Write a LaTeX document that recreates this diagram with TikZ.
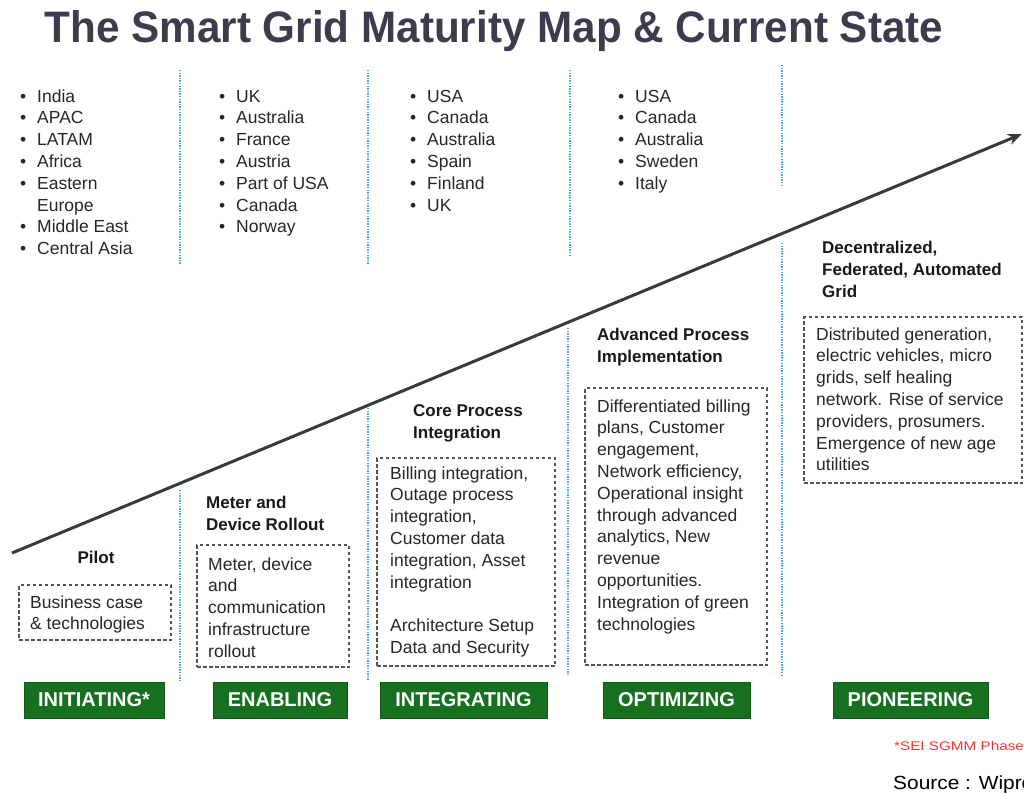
\documentclass[tikz,border=0pt]{standalone}
\usepackage{fontspec}
\setmainfont{Liberation Sans}
\usetikzlibrary{arrows.meta}
\definecolor{titlecol}{HTML}{3C3C4E}
\definecolor{gridgreen}{HTML}{16701F}
\definecolor{sepblue}{HTML}{45AEDC}
\definecolor{boxgray}{HTML}{555555}
\definecolor{arrowgray}{HTML}{3A3A3A}
\definecolor{notered}{HTML}{FF3030}
\definecolor{txtcol}{HTML}{262626}
\newcommand{\bitem}[1]{\makebox[17pt][l]{\textbullet}#1}
\newcommand{\bcont}[1]{\hspace*{17pt}#1}
\begin{document}
\begin{tikzpicture}[x=1pt,y=-1pt,
  bodytext/.style={font=\fontsize{17.5}{21.8}\selectfont, align=left, anchor=north west, inner sep=0pt, text=txtcol},
  headtext/.style={font=\fontsize{17}{22.3}\selectfont\bfseries, align=left, anchor=north west, inner sep=0pt, text=black!90},
  dashbox/.style={draw=boxgray, line width=1.5pt, dash pattern=on 3.5pt off 2.5pt, inner sep=0pt},
  phase/.style={fill=gridgreen, draw=gridgreen!80!black, line width=0.8pt, text=white, font=\fontsize{20}{24}\selectfont\bfseries, minimum height=36pt, inner sep=0pt},
  sepline/.style={draw=sepblue, line width=2.2pt, dash pattern=on 1.3pt off 1.3pt},
  arrowline/.style={draw=arrowgray, line width=3pt, -{Stealth[length=14pt,width=11pt]}}]
\useasboundingbox (0,0) rectangle (1024,793);
\clip (0,0) rectangle (1024,793);

% title
\node[anchor=base, inner sep=0pt, text=titlecol, font=\fontsize{42}{48}\selectfont\bfseries] (title) at (494,42) {\scalebox{1.005}[1.05]{The Smart Grid Maturity Map \& Current State}};

% separators
\coordinate (s1a) at (180,70);  \coordinate (s1b) at (180,265);
\coordinate (s2a) at (368,70);  \coordinate (s2b) at (368,265);
\coordinate (s3a) at (570,70);  \coordinate (s3b) at (570,256);
\coordinate (s4a) at (782,65);  \coordinate (s4b) at (782,186);
\coordinate (l1a) at (180,490); \coordinate (l1b) at (180,680);
\coordinate (l2a) at (368,408); \coordinate (l2b) at (368,680);
\coordinate (l3a) at (568,328); \coordinate (l3b) at (568,676);
\coordinate (l4a) at (782,243); \coordinate (l4b) at (782,676);
\foreach \a/\b in {s1a/s1b,s2a/s2b,s3a/s3b,s4a/s4b,l1a/l1b,l2a/l2b,l3a/l3b,l4a/l4b}
  \draw[sepline] (\a) -- (\b);

% country lists
\node[bodytext] (c1) at (20,86.7) {\strut\bitem{India}\\ \bitem{APAC}\\ \bitem{LATAM}\\ \bitem{Africa}\\ \bitem{Eastern}\\ \bcont{Europe}\\ \bitem{Middle East}\\ \bitem{Central Asia}};
\node[bodytext] (c2) at (219,86.7) {\strut\bitem{UK}\\ \bitem{Australia}\\ \bitem{France}\\ \bitem{Austria}\\ \bitem{Part of USA}\\ \bitem{Canada}\\ \bitem{Norway}};
\node[bodytext] (c3) at (410,86.7) {\strut\bitem{USA}\\ \bitem{Canada}\\ \bitem{Australia}\\ \bitem{Spain}\\ \bitem{Finland}\\ \bitem{UK}};
\node[bodytext] (c4) at (618,86.7) {\strut\bitem{USA}\\ \bitem{Canada}\\ \bitem{Australia}\\ \bitem{Sweden}\\ \bitem{Italy}};

% maturity arrow
\coordinate (astart) at (12,553);
\coordinate (aend) at (1022,134);
\draw[arrowline] (astart) -- (aend);

% headings
\node[headtext, anchor=north, align=center] (h1) at (96,547.4) {\strut Pilot};
\node[headtext] (h2) at (206,492.4) {\strut Meter and\\Device Rollout};
\node[headtext] (h3) at (413,400.4) {\strut Core Process\\Integration};
\node[headtext] (h4) at (597,324.4) {\strut Advanced Process\\Implementation};
\node[headtext] (h5) at (822,237.4) {\strut Decentralized,\\Federated, Automated\\Grid};

% dashed boxes
\node[dashbox, minimum width=152pt, minimum height=55pt] (b1) at (95,612.5) {};
\node[dashbox, minimum width=152pt, minimum height=122pt] (b2) at (273,606) {};
\node[dashbox, minimum width=178pt, minimum height=208pt] (b3) at (466,562) {};
\node[dashbox, minimum width=182pt, minimum height=277pt] (b4) at (676,526.5) {};
\node[dashbox, minimum width=218pt, minimum height=166pt] (b5) at (913,400) {};

% box texts
\node[bodytext] (t1) at (30,592.7) {\strut Business case\\\& technologies};
\node[bodytext] (t2) at (208,554.7) {\strut Meter, device\\and\\communication\\infrastructure\\rollout};
\node[bodytext] (t3) at (390,463.7) {\strut Billing integration,\\Outage process\\integration,\\Customer data\\integration, Asset\\integration\\[21.8pt]Architecture Setup\\Data and Security};
\node[bodytext] (t4) at (597,396.7) {\strut Differentiated billing\\plans, Customer\\engagement,\\Network efficiency,\\Operational insight\\through advanced\\analytics, New\\revenue\\opportunities.\\Integration of green\\technologies};
\node[bodytext] (t5) at (816,324.7) {\strut Distributed generation,\\electric vehicles, micro\\grids, self healing\\network. Rise of service\\providers, prosumers.\\Emergence of new age\\utilities};

% phases
\node[phase, minimum width=140pt] (p1) at (94,700) {INITIATING*};
\node[phase, minimum width=134pt] (p2) at (280,700) {ENABLING};
\node[phase, minimum width=167pt] (p3) at (463.5,700) {INTEGRATING};
\node[phase, minimum width=147pt] (p4) at (676.5,700) {OPTIMIZING};
\node[phase, minimum width=155pt] (p5) at (910.5,700) {PIONEERING};

% notes
\node[anchor=base west, inner sep=0pt, text=notered, font=\fontsize{12.5}{14}\selectfont] (note) at (894,750) {\scalebox{1.22}[1]{*SEI SGMM Phases}};
\node[anchor=base west, inner sep=0pt, text=black, font=\fontsize{19}{22}\selectfont] (src) at (893,789.5) {\scalebox{1.1}[1]{Source : Wipro}};
\end{tikzpicture}
\end{document}
